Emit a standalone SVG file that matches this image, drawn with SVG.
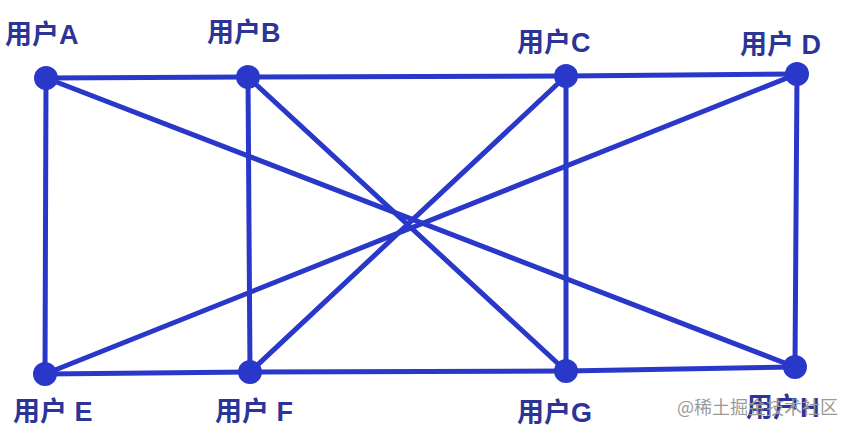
<svg xmlns="http://www.w3.org/2000/svg" width="854" height="430" viewBox="0 0 854 430">
<style>
.e{stroke:#2a38ca;stroke-width:5;stroke-linecap:round;fill:none}
.n{fill:#2a38ca}
.t{font-family:"Liberation Sans","Noto Sans CJK SC",sans-serif;font-weight:bold;font-size:27px;fill:#2c3597}
.w{font-family:"Noto Sans CJK SC",sans-serif;font-size:18px;fill:#9a9a9a}
</style>
<rect width="854" height="430" fill="#ffffff"/>
<g id="connectors">
<line class="e" x1="46" y1="78" x2="248" y2="77"/>
<line class="e" x1="248" y1="77" x2="566" y2="76"/>
<line class="e" x1="566" y1="76" x2="797" y2="74"/>
<line class="e" x1="45" y1="374" x2="250" y2="372"/>
<line class="e" x1="250" y1="372" x2="566" y2="371"/>
<line class="e" x1="566" y1="371" x2="795" y2="367"/>
<line class="e" x1="46" y1="78" x2="45" y2="374"/>
<line class="e" x1="248" y1="77" x2="250" y2="372"/>
<line class="e" x1="566" y1="76" x2="566" y2="371"/>
<line class="e" x1="797" y1="74" x2="795" y2="367"/>
<line class="e" x1="46" y1="78" x2="795" y2="367"/>
<line class="e" x1="248" y1="77" x2="566" y2="371"/>
<line class="e" x1="566" y1="76" x2="250" y2="372"/>
<line class="e" x1="797" y1="74" x2="45" y2="374"/>
</g>
<g id="A"><circle class="n" cx="46" cy="78" r="12"/><text class="t" x="5" y="44">用户A</text></g>
<g id="B"><circle class="n" cx="248" cy="77" r="12"/><text class="t" x="207" y="42">用户B</text></g>
<g id="C"><circle class="n" cx="566" cy="76" r="12"/><text class="t" x="517" y="52">用户C</text></g>
<g id="D"><circle class="n" cx="797" cy="74" r="12"/><text class="t" x="740" y="54">用户 D</text></g>
<g id="E"><circle class="n" cx="45" cy="374" r="12"/><text class="t" x="13" y="421">用户 E</text></g>
<g id="F"><circle class="n" cx="250" cy="372" r="12"/><text class="t" x="215" y="421">用户 F</text></g>
<g id="G"><circle class="n" cx="566" cy="371" r="12"/><text class="t" x="517" y="422">用户G</text></g>
<g id="H"><circle class="n" cx="795" cy="367" r="12"/><text class="t" x="746" y="417">用户H</text></g>
<text class="w" x="677" y="414">@稀土掘金技术社区</text>
</svg>
